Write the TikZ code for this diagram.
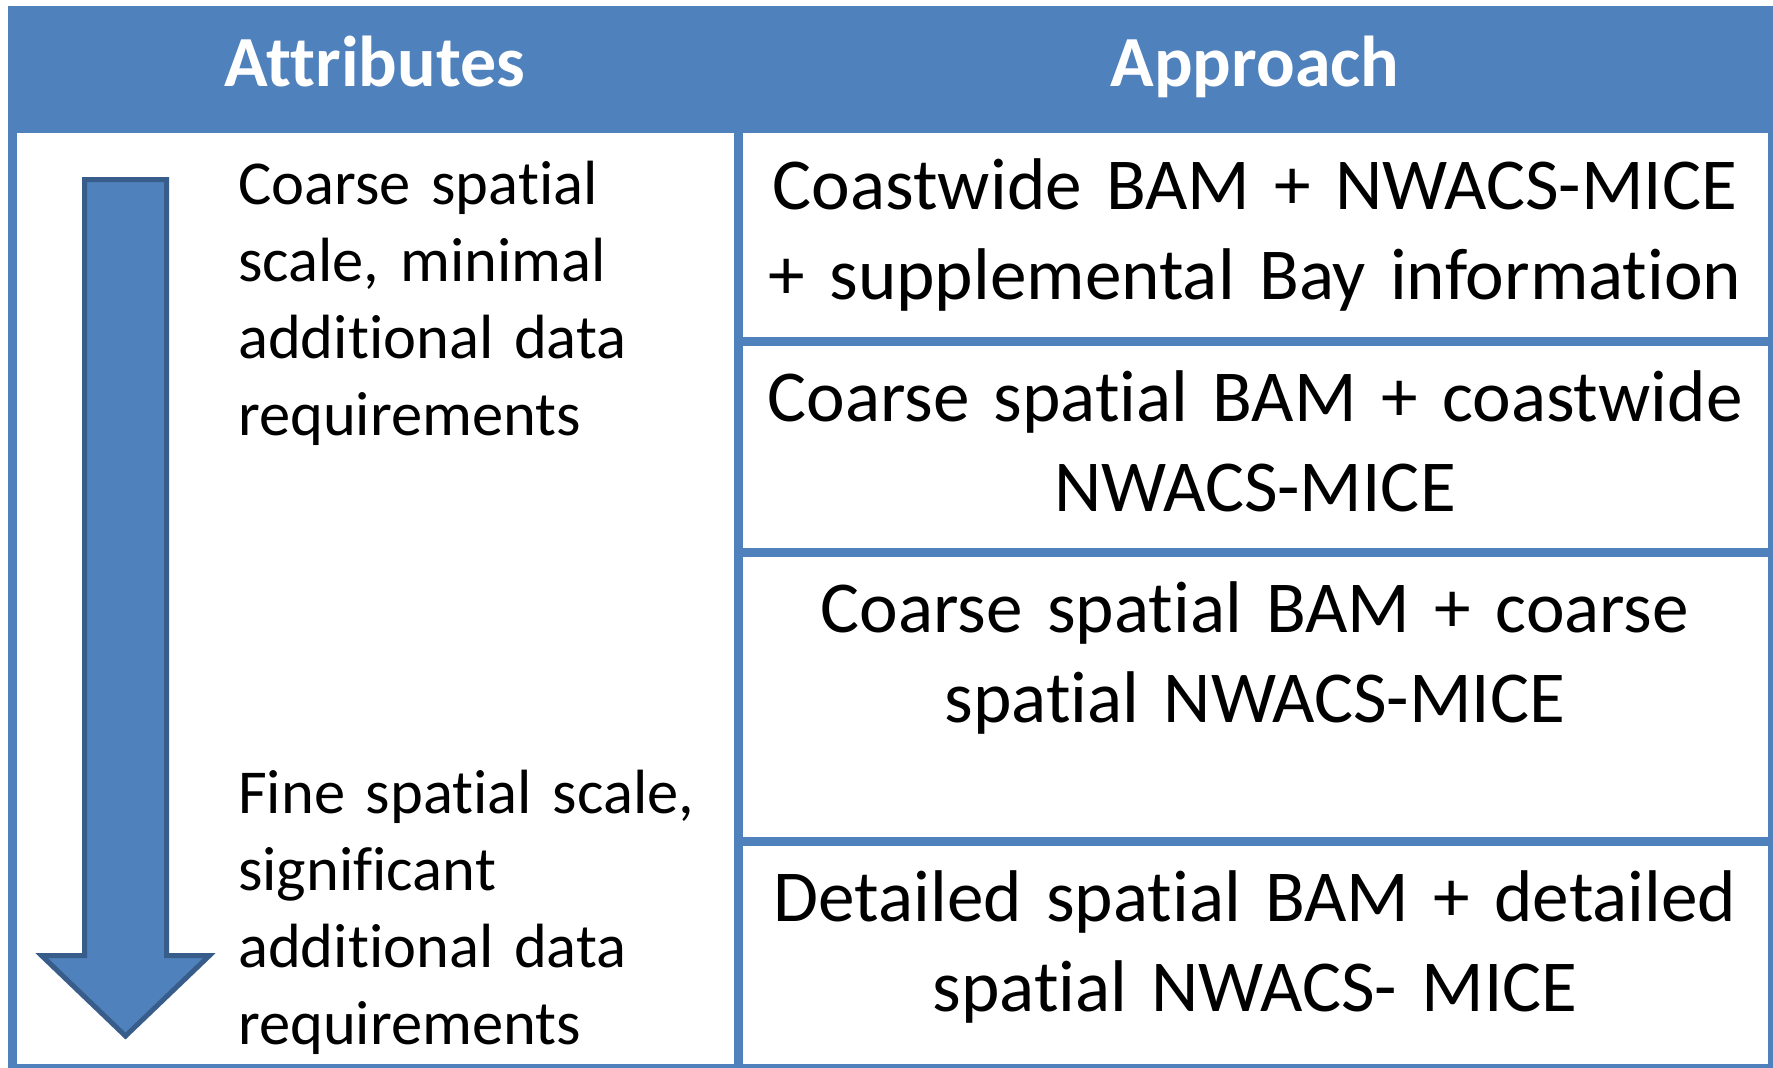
\documentclass[tikz,border=0pt]{standalone}
\usepackage{fontspec}
\setmainfont{Carlito}[RawFeature={-liga;-clig;-calt;-dlig}]
\definecolor{tblue}{HTML}{4F81BD}
\definecolor{tdark}{HTML}{385D8A}
\tikzset{
  grid/.style={draw=tblue, line width=9pt},
  headtext/.style={font=\fontsize{72}{86}\selectfont\bfseries, text=white, inner sep=0pt, anchor=base},
  attrtext/.style={font=\fontsize{62.5}{77}\selectfont, inner sep=0pt, anchor=base west, text width=520pt, align=left},
  celltext/.style={font=\fontsize{73.2}{90}\selectfont, inner sep=0pt, anchor=base, text width=1010pt, align=center},
  bigarrow/.style={fill=tblue, draw=tdark, line width=5pt, line join=miter}
}
\begin{document}
\begin{tikzpicture}[x=1pt, y=-1pt]
  \useasboundingbox (0,0) rectangle (1773,1068);
  % header band
  \fill[tblue] (8,6) rectangle (1777,133);
  % outer frame and column divider
  \draw[grid] (12.5,10.5) rectangle (1772.5,1068.5);
  \draw[grid] (738.5,133) -- (738.5,1070);
  % row dividers of the approach column
  \draw[grid] (738.5,341) -- (1772.5,341);
  \draw[grid] (738.5,552) -- (1772.5,552);
  \draw[grid] (738.5,841) -- (1772.5,841);

  % headers
  \node[headtext] (hattr) at (375,86) {Attributes};
  \node[headtext] (happ) at (1255,86) {Approach};

  % downward arrow
  \draw[bigarrow] (84.5,179.5) -- (166.5,179.5) -- (166.5,955.5) -- (209.5,955.5)
    -- (125.5,1036) -- (41.5,955.5) -- (84.5,955.5) -- cycle;

  % attribute texts
  \node[attrtext] (acoarse) at (238,204) {Coarse spatial\\scale, minimal\\additional data\\requirements};
  \node[attrtext] (afine) at (238,813) {Fine spatial scale,\\significant\\additional data\\requirements};

  % approach cells
  \node[celltext] (c1) at (1255,209) {Coastwide BAM + NWACS-MICE\\+ supplemental Bay information};
  \node[celltext] (c2) at (1255,421) {Coarse spatial BAM + coastwide\\NWACS-MICE};
  \node[celltext] (c3) at (1255,632) {Coarse spatial BAM + coarse\\spatial NWACS-MICE};
  \node[celltext] (c4) at (1255,921) {Detailed spatial BAM + detailed\\spatial NWACS- MICE};
\end{tikzpicture}
\end{document}
